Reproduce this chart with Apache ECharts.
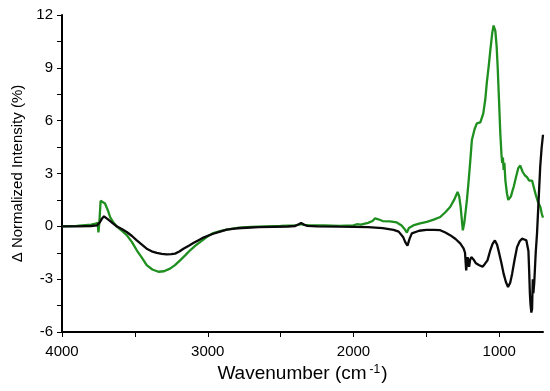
<!DOCTYPE html>
<html>
<head>
<meta charset="utf-8">
<script src="https://cdn.jsdelivr.net/npm/echarts@6/dist/echarts.min.js"></script>
<style>html,body{margin:0;padding:0;background:#fff;}#c{width:550px;height:391px;}</style>
</head>
<body>
<div id="c"></div>
<script>
var greenW = [4000,3900,3800,3770,3756,3750,3744,3735,3725,3705,3685,3670,3650,3625,3590,3556,3520,3487,3450,3419,3380,3339,3300,3259,3225,3190,3155,3121,3085,3053,3010,2962,2915,2870,2820,2778,2700,2600,2500,2400,2360,2340,2300,2200,2100,2000,1977,1950,1900,1870,1852,1830,1800,1750,1703,1670,1650,1634,1620,1590,1550,1497,1450,1405,1370,1337,1310,1286,1275,1265,1255,1250,1240,1230,1222,1210,1200,1188,1170,1154,1130,1110,1096,1085,1073,1060,1048,1039,1027,1018,1011,1002,993,985,980,975,970,965,958,947,938,931,920,910,901,885,870,856,840,825,810,795,785,775,764,750,735,718,708,700];
var greenV = [0,0.03,0.1,0.15,0.2,-0.35,0.2,1.45,1.5,1.3,0.9,0.53,0.25,0,-0.25,-0.5,-0.9,-1.36,-1.8,-2.2,-2.45,-2.58,-2.55,-2.4,-2.2,-1.93,-1.65,-1.36,-1.1,-0.9,-0.62,-0.38,-0.27,-0.19,-0.12,-0.08,-0.03,0,0.02,0.05,0.12,0.08,0.05,0.05,0.03,0.05,0.12,0.1,0.2,0.3,0.45,0.4,0.3,0.28,0.22,0.05,-0.15,-0.35,-0.1,0.05,0.15,0.25,0.38,0.53,0.8,1.1,1.5,1.95,1.7,1.1,0.2,-0.23,0.2,0.9,1.5,2.6,3.6,4.9,5.5,5.85,5.9,6.4,7.2,8.2,9.05,10.1,11.0,11.4,11.1,10.2,9.05,7.2,5.3,4.1,3.6,3.9,3.2,3.6,2.6,1.85,1.5,1.4,1.7,2.0,2.25,2.8,3.3,3.45,3.1,2.9,2.8,2.6,2.7,2.6,2.25,1.8,1.4,1.1,0.7,0.5];
var blackW = [4000,3900,3800,3760,3739,3725,3712,3700,3682,3655,3625,3590,3556,3520,3487,3450,3419,3385,3350,3315,3282,3250,3224,3195,3167,3130,3099,3060,3030,2995,2962,2915,2870,2800,2732,2650,2549,2450,2400,2375,2360,2340,2320,2250,2100,2000,1900,1800,1725,1690,1660,1645,1630,1615,1600,1590,1550,1500,1450,1405,1370,1337,1300,1268,1245,1235,1227,1222,1217,1212,1207,1200,1192,1175,1160,1140,1115,1100,1081,1063,1046,1030,1015,1000,985,970,955,940,925,912,895,878,860,844,828,814,800,795,790,786,780,775,770,766,760,750,741,730,719,710,700];
var blackV = [0,0,0.02,0.05,0.25,0.45,0.57,0.5,0.38,0.2,0,-0.15,-0.32,-0.55,-0.8,-1.05,-1.27,-1.42,-1.51,-1.56,-1.59,-1.58,-1.55,-1.43,-1.27,-1.1,-0.95,-0.77,-0.64,-0.52,-0.42,-0.3,-0.19,-0.11,-0.08,-0.05,-0.03,-0.01,0.02,0.12,0.19,0.1,0.03,0,-0.02,-0.03,-0.05,-0.1,-0.2,-0.3,-0.6,-0.9,-1.1,-0.7,-0.4,-0.3,-0.25,-0.2,-0.2,-0.22,-0.35,-0.5,-0.72,-0.97,-1.25,-1.5,-2.5,-2.1,-1.75,-2.0,-2.3,-1.9,-1.75,-1.9,-2.1,-2.2,-2.3,-2.15,-1.93,-1.4,-1.0,-0.8,-1.05,-1.55,-2.1,-2.7,-3.15,-3.45,-3.2,-2.7,-1.9,-1.18,-0.85,-0.7,-0.75,-0.8,-1.4,-2.5,-3.8,-4.4,-4.9,-4.7,-3.0,-3.8,-3.2,-1.5,-0.4,1.5,3.4,4.4,5.2];
var xLabels = [1000,2000,3000,4000];
var xTicks = [1000,1500,2000,2500,3000,3500,4000];
var yMin = -6, yMax = 12, yStep = 3;

function pairs(w, v) { return w.map(function (x, i) { return [x, v[i]]; }); }

var font = '"Liberation Sans", Arial, sans-serif';
var chart = echarts.init(document.getElementById('c'), null, {renderer: 'canvas'});
chart.setOption({
  animation: false,
  backgroundColor: '#fff',
  grid: {left: 62, right: 7, top: 15, bottom: 59},
  xAxis: {
    type: 'value', min: 700, max: 4000, inverse: true,
    name: 'Wavenumber (cm{sup|-1})', nameLocation: 'middle', nameGap: 30,
    nameTextStyle: {fontFamily: font, fontSize: 19, color: '#000',
      rich: {sup: {fontFamily: font, fontSize: 12, color: '#000', verticalAlign: 'top', padding: [0, 1, 8, 3]}}},
    axisLine: {show: true, onZero: false, lineStyle: {color: '#000', width: 2}},
    axisTick: {show: true, inside: false, length: 5, customValues: xTicks, lineStyle: {color: '#000', width: 1}},
    axisLabel: {customValues: xLabels, margin: 12, fontFamily: font, fontSize: 15, color: '#000',
      formatter: function (v) { return String(v); }},
    splitLine: {show: false}
  },
  yAxis: {
    type: 'value', min: yMin, max: yMax, interval: yStep,
    name: 'Δ Normalized Intensity (%)', nameLocation: 'middle', nameGap: 37,
    nameTextStyle: {fontFamily: font, fontSize: 15, color: '#000'},
    axisLine: {show: true, onZero: false, lineStyle: {color: '#000', width: 2}},
    axisTick: {show: true, inside: false, length: 5, lineStyle: {color: '#000', width: 1}},
    minorTick: {show: true, splitNumber: 2, length: 5, lineStyle: {color: '#000', width: 1}},
    axisLabel: {margin: 9, fontFamily: font, fontSize: 15, color: '#000'},
    splitLine: {show: false}
  },
  series: [
    {type: 'line', data: pairs(greenW, greenV), showSymbol: false, symbol: 'none',
      lineStyle: {color: '#1f8f1f', width: 2.3}, z: 2},
    {type: 'line', data: pairs(blackW, blackV), showSymbol: false, symbol: 'none',
      lineStyle: {color: '#0a0a0a', width: 2.3}, z: 3}
  ]
});
</script>
</body>
</html>
